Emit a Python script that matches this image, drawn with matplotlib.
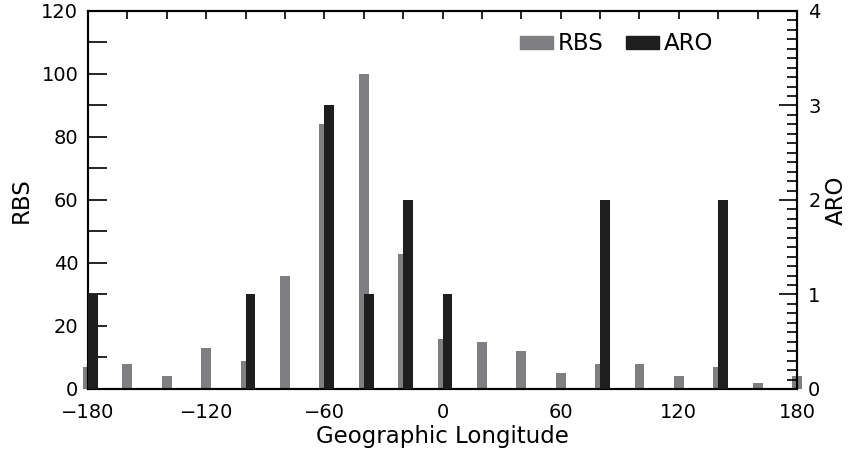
import numpy as np
import matplotlib.pyplot as plt
from matplotlib.patches import Patch
from matplotlib.ticker import MultipleLocator

# longitude bins (deg) and counts per bin
lon = [-180, -160, -140, -120, -100, -80, -60, -40, -20, 0,
       20, 40, 60, 80, 100, 120, 140, 160, 180]
rbs = [7, 8, 4, 13, 9, 36, 84, 100, 43, 16,
       15, 12, 5, 8, 8, 4, 7, 2, 4]
aro = [1, 0, 0, 0, 1, 0, 3, 1, 2, 1,
       0, 0, 0, 2, 0, 0, 2, 0, 0]

gray = "#7f7f82"
black = "#1e1e1e"
fs = 14      # tick labels
lfs = 16.5   # axis labels

fig = plt.figure(figsize=(8.48, 4.58), dpi=100)
ax = fig.add_axes([0.1038, 0.1507, 0.8361, 0.8253])
ax2 = ax.twinx()

lon_arr = np.array(lon)
ax.bar(lon_arr, rbs, width=5, color=gray, clip_on=False, zorder=2)
ax2.bar(lon_arr + 2.5, aro, width=5, color=black, clip_on=False, zorder=3)

ax.set_xlim(-180, 180)
ax.set_ylim(0, 120)
ax2.set_ylim(0, 4)

ax.xaxis.set_major_locator(MultipleLocator(60))
ax.xaxis.set_minor_locator(MultipleLocator(20))
ax.tick_params(axis="x", which="both", direction="in", top=True, bottom=False,
               length=6, width=1.2, labelsize=fs, pad=10)
ax2.tick_params(axis="x", which="both", top=False, bottom=False)

ax.yaxis.set_major_locator(MultipleLocator(20))
ax.yaxis.set_minor_locator(MultipleLocator(10))
ax.tick_params(axis="y", which="both", direction="in", left=True, right=False,
               length=14, width=1.2, labelsize=fs, pad=7)

ax2.yaxis.set_major_locator(MultipleLocator(1))
ax2.yaxis.set_minor_locator(MultipleLocator(0.1))
ax2.tick_params(axis="y", which="major", direction="in", length=13, width=1.2,
                labelsize=fs, pad=8)
ax2.tick_params(axis="y", which="minor", direction="in", length=7, width=1.2)

for a in (ax, ax2):
    for s in a.spines.values():
        s.set_linewidth(1.5)

ax.set_xlabel("Geographic Longitude", fontsize=lfs, labelpad=2)
ax.set_ylabel("RBS", fontsize=lfs, labelpad=6)
ax2.set_ylabel("ARO", fontsize=lfs, labelpad=3)

handles = [Patch(color=gray, label="RBS"), Patch(color=black, label="ARO")]
ax2.legend(handles=handles, loc="upper right", bbox_to_anchor=(0.911, 0.998),
           ncol=2, frameon=False, fontsize=lfs, handlelength=1.45,
           handleheight=0.5, handletextpad=0.2, columnspacing=1.0)

fig.savefig("out.png", dpi=100)
